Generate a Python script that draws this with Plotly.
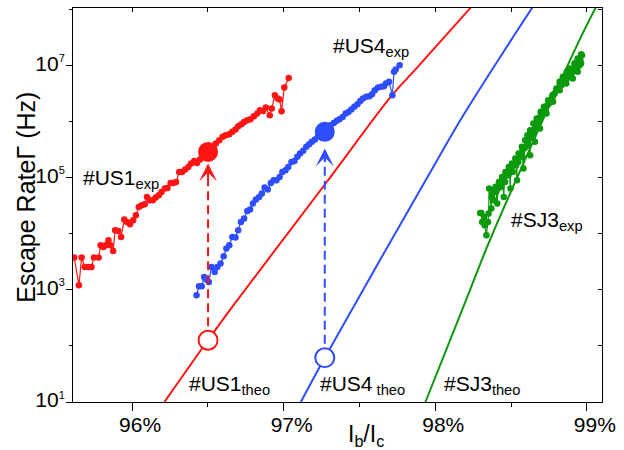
import plotly.graph_objects as go

# ---------------- data (x in % of Ic, y as log10 of escape rate in Hz) ----------------
us1_exp_x = [95.618, 95.649, 95.667, 95.688, 95.714, 95.732, 95.748, 95.779, 95.792, 95.810,
             95.826, 95.844, 95.857, 95.875, 95.888, 95.909, 95.927, 95.948, 95.966, 95.986,
             96.007, 96.025, 96.044, 96.064, 96.083, 96.098, 96.116, 96.137, 96.155, 96.176,
             96.194, 96.216, 96.233, 96.254, 96.272, 96.290, 96.311, 96.329, 96.350, 96.371,
             96.389, 96.410, 96.428, 96.448, 96.467, 96.500, 96.531, 96.552, 96.575, 96.597,
             96.617, 96.641, 96.661, 96.682, 96.700, 96.721, 96.739, 96.760, 96.781, 96.804,
             96.825, 96.843, 96.864, 96.882, 96.908, 96.921, 96.942, 96.960, 96.973, 96.986,
             97.004, 97.033]
us1_exp_logy = [3.573, 3.080, 3.573, 3.406, 3.406, 3.406, 3.573, 3.573, 3.793, 3.763,
                3.793, 3.882, 3.793, 3.692, 4.060, 4.048, 3.941, 4.250, 4.209, 4.167,
                4.238, 4.327, 4.476, 4.506, 4.524, 4.654, 4.595, 4.595, 4.642, 4.684,
                4.743, 4.803, 4.815, 4.904, 4.904, 4.922, 5.100, 5.100, 5.142, 5.189,
                5.249, 5.296, 5.260, 5.320, 5.368, 5.430, 5.516, 5.605, 5.665, 5.724,
                5.754, 5.771, 5.813, 5.855, 5.914, 5.950, 5.991, 6.021, 6.039, 6.092,
                6.140, 6.199, 6.187, 6.247, 6.110, 6.229, 6.466, 6.407, 6.389, 6.181,
                6.603, 6.775]

us4_exp_x = [96.425, 96.441, 96.459, 96.475, 96.490, 96.506, 96.524, 96.545, 96.562, 96.583,
             96.604, 96.622, 96.641, 96.661, 96.682, 96.700, 96.718, 96.739, 96.760, 96.778,
             96.797, 96.817, 96.838, 96.856, 96.874, 96.895, 96.915, 96.934, 96.952, 96.973,
             96.991, 97.012, 97.030, 97.051, 97.071, 97.090, 97.108, 97.129, 97.149, 97.168,
             97.186, 97.206, 97.227, 97.250, 97.290, 97.310, 97.331, 97.350, 97.368, 97.389,
             97.409, 97.427, 97.446, 97.466, 97.487, 97.505, 97.523, 97.544, 97.565, 97.583,
             97.601, 97.622, 97.643, 97.661, 97.674, 97.695, 97.717, 97.728, 97.739, 97.765]
us4_exp_logy = [2.902, 3.062, 3.062, 3.228, 3.181, 3.139, 3.406, 3.317, 3.406, 3.466,
                3.597, 3.733, 3.793, 3.941, 3.929, 4.060, 4.209, 4.268, 4.405, 4.429,
                4.536, 4.607, 4.654, 4.714, 4.821, 4.785, 4.904, 4.951, 4.951, 5.011,
                5.100, 5.130, 5.189, 5.278, 5.296, 5.368, 5.428, 5.475, 5.546, 5.594,
                5.635, 5.677, 5.737, 5.770, 5.860, 5.932, 5.973, 6.009, 6.039, 6.080,
                6.140, 6.169, 6.211, 6.259, 6.306, 6.365, 6.407, 6.437, 6.449, 6.484,
                6.556, 6.603, 6.615, 6.627, 6.676, 6.704, 6.467, 6.882, 6.925, 7.002]

sj3_exp_x = [98.304, 98.309, 98.326, 98.337, 98.348, 98.352, 98.370, 98.374, 98.387, 98.381,
             98.402, 98.413, 98.424, 98.435, 98.446, 98.457, 98.461, 98.474, 98.483, 98.496,
             98.505, 98.511, 98.522, 98.533, 98.539, 98.548, 98.561, 98.570, 98.576, 98.587,
             98.598, 98.605, 98.613, 98.620, 98.631, 98.641, 98.648, 98.657, 98.663, 98.674,
             98.685, 98.692, 98.700, 98.713, 98.722, 98.728, 98.739, 98.750, 98.761, 98.772,
             98.778, 98.787, 98.800, 98.809, 98.822, 98.831, 98.837, 98.852, 98.865, 98.874,
             98.887, 98.896, 98.909, 98.913, 98.924, 98.935, 98.939, 98.952, 98.957, 98.968,
             98.296, 98.322, 98.355, 98.376, 98.398, 98.420, 98.441, 98.463, 98.485, 98.506,
             98.528, 98.550, 98.571, 98.593, 98.608, 98.626, 98.647, 98.669, 98.695, 98.717,
             98.745, 98.773, 98.799, 98.821, 98.842, 98.868, 98.890, 98.918, 98.940, 98.962,
             98.409, 98.452, 98.496, 98.539, 98.582, 98.626, 98.658, 98.691, 98.734, 98.777,
             98.821, 98.864, 98.907, 98.940, 98.962]
sj3_exp_logy = [4.369, 4.209, 4.149, 3.971, 4.209, 4.357, 4.446, 4.654, 4.595, 4.773,
                4.743, 4.803, 4.892, 4.833, 4.951, 5.011, 4.922, 5.070, 5.041, 5.159,
                5.189, 5.100, 5.249, 5.219, 5.308, 5.278, 5.397, 5.456, 5.367, 5.516,
                5.546, 5.635, 5.605, 5.694, 5.754, 5.724, 5.813, 5.855, 5.902, 5.962,
                6.021, 6.080, 6.110, 6.170, 6.229, 6.199, 6.288, 6.318, 6.377, 6.437,
                6.467, 6.496, 6.556, 6.585, 6.675, 6.645, 6.734, 6.764, 6.746, 6.793,
                6.823, 6.853, 6.883, 6.942, 7.031, 7.061, 6.972, 7.001, 7.090, 7.180,
                4.369, 4.298, 4.803, 4.714, 4.833, 4.922, 5.011, 5.100, 5.189, 5.249,
                5.338, 5.427, 5.546, 5.664, 5.754, 5.843, 5.962, 6.051, 6.170, 6.259,
                6.377, 6.467, 6.585, 6.704, 6.793, 6.883, 6.942, 7.031, 7.120, 7.197,
                4.536, 4.654, 4.803, 4.951, 5.159, 5.397, 5.635, 5.872, 6.140, 6.348,
                6.556, 6.675, 6.764, 6.883, 7.031]

us1_theo_x = [96.213, 96.500, 96.652, 97.284, 97.715, 97.865, 98.235]
us1_theo_logy = [1.0, 2.10, 2.665, 4.92, 6.467, 6.913, 8.03]
us4_theo_x = [97.113, 97.271, 98.000, 98.192, 98.500, 98.641]
us4_theo_logy = [1.0, 1.79, 5.25, 6.14, 7.447, 8.03]
sj3_theo_x = [97.935, 98.207, 98.365, 98.951, 99.059]
sj3_theo_logy = [1.0, 2.843, 3.913, 7.447, 8.03]

# highlighted points: experimental (filled) vs theoretical (open) at same bias
us1_mark_x = 96.501
us1_mark_exp_logy = 5.456
us1_mark_theo_logy = 2.10
us1_arrow_tip_logy = 5.25
us4_mark_x = 97.271
us4_mark_exp_logy = 5.813
us4_mark_theo_logy = 1.79
us4_arrow_tip_logy = 5.517

x_tick_vals = [96, 97, 98, 99]
x_tick_text = ["96%", "97%", "98%", "99%"]
y_tick_vals = [1e1, 1e3, 1e5, 1e7]
y_tick_exps = ["1", "3", "5", "7"]

RED = "#ff1414"
BLUE = "#2d4dff"
GREEN = "#0c990c"
FONT = "Liberation Sans, Arial, Helvetica, sans-serif"


def p10(vals):
    return [10 ** v for v in vals]


y_tick_text = ['10<sup><span style="font-size:11px">%s</span></sup>' % e for e in y_tick_exps]

fig = go.Figure()

# theory curves
for xs, ys, c in [(us1_theo_x, us1_theo_logy, RED),
                  (us4_theo_x, us4_theo_logy, BLUE),
                  (sj3_theo_x, sj3_theo_logy, GREEN)]:
    fig.add_trace(go.Scatter(x=xs, y=p10(ys), mode="lines",
                             line=dict(color=c, width=2, shape="spline", smoothing=1.0),
                             showlegend=False, hoverinfo="skip"))

# experimental series
sj3_pairs = sorted(zip(sj3_exp_x, sj3_exp_logy))
for xs, ys, c in [(us1_exp_x, us1_exp_logy, RED),
                  (us4_exp_x, us4_exp_logy, BLUE),
                  ([p[0] for p in sj3_pairs], [p[1] for p in sj3_pairs], GREEN)]:
    fig.add_trace(go.Scatter(x=xs, y=p10(ys), mode="lines+markers",
                             line=dict(color=c, width=1.2),
                             marker=dict(color=c, size=6.5),
                             showlegend=False, hoverinfo="skip"))

# dashed connectors
for mx, y0, y1, c in [(us1_mark_x, us1_mark_theo_logy, us1_arrow_tip_logy - 0.12, RED),
                      (us4_mark_x, us4_mark_theo_logy, us4_arrow_tip_logy - 0.12, BLUE)]:
    fig.add_trace(go.Scatter(x=[mx, mx], y=p10([y0, y1]), mode="lines",
                             line=dict(color=c, width=2, dash="9px,5px"),
                             showlegend=False, hoverinfo="skip"))

# big filled circles (exp) and open circles (theo)
for mx, ye, yt, c in [(us1_mark_x, us1_mark_exp_logy, us1_mark_theo_logy, RED),
                      (us4_mark_x, us4_mark_exp_logy, us4_mark_theo_logy, BLUE)]:
    fig.add_trace(go.Scatter(x=[mx], y=p10([ye]), mode="markers",
                             marker=dict(color=c, size=20),
                             showlegend=False, hoverinfo="skip"))
    fig.add_trace(go.Scatter(x=[mx], y=p10([yt]), mode="markers",
                             marker=dict(color="white", size=19, line=dict(color=c, width=2)),
                             showlegend=False, hoverinfo="skip"))

# dummy trace to activate mirrored top/right axes
fig.add_trace(go.Scatter(x=[], y=[], xaxis="x2", yaxis="y2", showlegend=False, hoverinfo="skip"))

annotations = []
# arrowheads
for mx, tip, c in [(us1_mark_x, us1_arrow_tip_logy, RED), (us4_mark_x, us4_arrow_tip_logy, BLUE)]:
    annotations.append(dict(x=mx, y=tip, xref="x", yref="y", text="", showarrow=True,
                            ax=0, ay=15, arrowhead=3, arrowsize=1.5, arrowwidth=2,
                            arrowcolor=c))

lab_font = dict(family=FONT, size=21, color="black")
for txt, x, y in [("#US1<sub>exp</sub>", 95.662, 4.97),
                  ("#US4<sub>exp</sub>", 97.311, 7.33),
                  ("#SJ3<sub>exp</sub>", 98.486, 4.22),
                  ("#US1<sub>theo</sub>", 96.363, 1.30),
                  ("#US4<sub> theo</sub>", 97.227, 1.30),
                  ("#SJ3<sub>theo</sub>", 98.045, 1.30)]:
    annotations.append(dict(x=x, y=y, xref="x", yref="y", text=txt, showarrow=False,
                            xanchor="left", yanchor="middle", font=lab_font))

# axis titles
annotations.append(dict(x=0.554, y=-0.043, xref="paper", yref="paper",
                        text="I<sub>b</sub>/I<sub>c</sub>", showarrow=False,
                        xanchor="center", yanchor="top",
                        font=dict(family=FONT, size=23, color="black")))
annotations.append(dict(x=-0.0877, y=0.52, xref="paper", yref="paper",
                        text="Escape RateΓ (Hz)", showarrow=False, textangle=-90,
                        xanchor="center", yanchor="middle",
                        font=dict(family=FONT, size=25, color="black")))

XR = [95.61, 99.10]
YR = [1, 8.02]

fig.update_layout(
    width=624, height=450,
    margin=dict(l=73, r=15, t=8, b=48),
    paper_bgcolor="white", plot_bgcolor="white",
    font=dict(family=FONT, color="black"),
    annotations=annotations,
    xaxis=dict(range=XR, showgrid=False, zeroline=False, showline=True,
               linecolor="black", linewidth=1, ticks="outside", ticklen=8,
               tickcolor="black", tickvals=x_tick_vals, ticktext=x_tick_text,
               tickfont=dict(family=FONT, size=21, color="black"),
               ticklabelshift=8, ticklabelstandoff=-4, ticklabeloverflow="allow",
               minor=dict(tickvals=[96.5, 97.5, 98.5], ticklen=4, ticks="outside",
                          tickcolor="black", showgrid=False)),
    yaxis=dict(type="log", range=YR, showgrid=False, zeroline=False, showline=True,
               linecolor="black", linewidth=1, ticks="outside", ticklen=6,
               tickcolor="black", tickvals=y_tick_vals, ticktext=y_tick_text,
               tickfont=dict(family=FONT, size=21, color="black"),
               ticklabelshift=-2, ticklabelstandoff=-3, ticklabeloverflow="allow",
               minor=dict(tickvals=[1e2, 1e4, 1e6, 1e8], ticklen=3, ticks="outside",
                          tickcolor="black", showgrid=False)),
    xaxis2=dict(range=XR, overlaying="x", side="top", showgrid=False, zeroline=False,
                showline=True, linecolor="black", linewidth=1, ticks="inside",
                ticklen=4, tickcolor="black", dtick=0.5, tick0=96,
                showticklabels=False),
    yaxis2=dict(type="log", range=YR, overlaying="y", side="right", showgrid=False,
                zeroline=False, showline=True, linecolor="black", linewidth=1,
                ticks="inside", ticklen=4, tickcolor="black", dtick=1,
                showticklabels=False),
)

# remove the default 8px page margin so the 624x450 figure fills the window exactly
fig.write_html("out.html", config={"displayModeBar": False},
               post_script="document.body.style.margin='0';document.body.style.overflow='hidden';")
